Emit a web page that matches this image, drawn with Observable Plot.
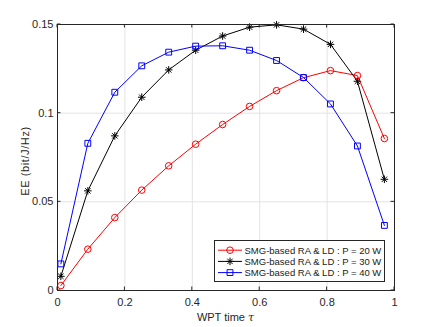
<!DOCTYPE html>
<html>
<head>
<meta charset="utf-8">
<script src="https://cdn.jsdelivr.net/npm/d3@7"></script>
<script src="https://cdn.jsdelivr.net/npm/@observablehq/plot@0.6"></script>
<style>
  html, body { margin: 0; padding: 0; background: #fff; }
  #chart { width: 436px; height: 327px; }
</style>
</head>
<body>
<div id="chart"></div>
<script>
// ---- data ----
const tau = [0.01, 0.09, 0.17, 0.25, 0.33, 0.41, 0.49, 0.57, 0.65, 0.73, 0.81, 0.89, 0.97];
const ee20 = [0.0028, 0.0233, 0.0411, 0.0566, 0.0703, 0.0825, 0.0936, 0.1038, 0.1127, 0.1200, 0.1240, 0.1212, 0.0857];
const ee30 = [0.0080, 0.0562, 0.0872, 0.1090, 0.1244, 0.1355, 0.1435, 0.1485, 0.1498, 0.1474, 0.1388, 0.1180, 0.0627];
const ee40 = [0.0150, 0.0830, 0.1118, 0.1267, 0.1344, 0.1378, 0.1380, 0.1355, 0.1297, 0.1201, 0.1052, 0.0815, 0.0367];
const seriesNames = ["SMG-based RA & LD : P = 20 W", "SMG-based RA & LD : P = 30 W", "SMG-based RA & LD : P = 40 W"];
const seriesColors = ["#ff0000", "#000000", "#0000ff"];
const xTicks = [0, 0.2, 0.4, 0.6, 0.8, 1];
const xTickLabels = ["0", "0.2", "0.4", "0.6", "0.8", "1"];
const yTicks = [0, 0.05, 0.1, 0.15];
const yTickLabels = ["0", "0.05", "0.1", "0.15"];
const xLabel = "WPT time ";
const xLabelSym = "τ";
const yLabel = "EE (bit/J/Hz)";

// MATLAB-like '*' marker (plus + times)
const asterisk = {
  draw(context, size) {
    const r = Math.sqrt(size / Math.PI) * 1.15;
    const d = r * 0.7071;
    context.moveTo(-r, 0); context.lineTo(r, 0);
    context.moveTo(0, -r); context.lineTo(0, r);
    context.moveTo(-d, -d); context.lineTo(d, d);
    context.moveTo(-d, d); context.lineTo(d, -d);
  }
};
const seriesSymbols = [d3.symbolCircle, asterisk, d3.symbolSquare];
const seriesValues = [ee20, ee30, ee40];

const rows = seriesNames.flatMap((s, k) => tau.map((t, i) => ({tau: t, ee: seriesValues[k][i], s})));

const plot = Plot.plot({
  width: 436,
  height: 327,
  marginLeft: 57,
  marginRight: 42,
  marginTop: 24,
  marginBottom: 37,
  style: {fontFamily: "'Liberation Sans', Arial, sans-serif", fontSize: "11px", color: "#262626", background: "#fff", overflow: "visible"},
  x: {domain: [0, 1]},
  y: {domain: [0, 0.15]},
  color: {domain: seriesNames, range: seriesColors},
  symbol: {domain: seriesNames, range: seriesSymbols},
  marks: [
    Plot.gridX(xTicks, {stroke: "#e3e3e3", strokeOpacity: 1}),
    Plot.gridY(yTicks, {stroke: "#e3e3e3", strokeOpacity: 1}),
    Plot.axisX(xTicks, {tickSize: 0, tickPadding: 8, tickFormat: d => xTickLabels[xTicks.indexOf(d)], label: null}),
    Plot.axisY(yTicks, {tickSize: 0, tickPadding: 4, tickFormat: d => yTickLabels[yTicks.indexOf(d)], label: null}),
    Plot.line(rows, {x: "tau", y: "ee", z: "s", stroke: "s", strokeWidth: 1}),
    Plot.dot(rows, {x: "tau", y: "ee", stroke: "s", symbol: "s", r: 3.3, fill: "none", strokeWidth: 1}),
    Plot.frame({stroke: "#262626", strokeWidth: 1})
  ]
});
document.getElementById("chart").appendChild(plot);

// ---- overlays: inward ticks, axis labels, legend ----
const svg = d3.select(plot);
const sx = plot.scale("x"), sy = plot.scale("y");
const x0 = sx.apply(0), x1 = sx.apply(1), y0 = sy.apply(0), y1 = sy.apply(0.15);
const tl = 3.5;
const tg = svg.append("g").attr("stroke", "#262626").attr("stroke-width", 1);
xTicks.forEach(v => {
  const px = sx.apply(v);
  tg.append("line").attr("x1", px).attr("x2", px).attr("y1", y0).attr("y2", y0 - tl);
  tg.append("line").attr("x1", px).attr("x2", px).attr("y1", y1).attr("y2", y1 + tl);
});
yTicks.forEach(v => {
  const py = sy.apply(v);
  tg.append("line").attr("y1", py).attr("y2", py).attr("x1", x0).attr("x2", x0 + tl);
  tg.append("line").attr("y1", py).attr("y2", py).attr("x1", x1).attr("x2", x1 - tl);
});

const xl = svg.append("text")
  .attr("x", (x0 + x1) / 2).attr("y", 321)
  .attr("text-anchor", "middle").attr("fill", "#262626").attr("font-size", "11px");
xl.append("tspan").text(xLabel);
xl.append("tspan").attr("font-style", "italic").attr("font-family", "'DejaVu Serif', serif").text(xLabelSym);

svg.append("text")
  .attr("transform", `translate(28.5,${(y0 + y1) / 2 + 4}) rotate(-90)`)
  .attr("text-anchor", "middle").attr("fill", "#262626").attr("font-size", "11px")
  .attr("letter-spacing", "0.6px")
  .text(yLabel);

const lg = svg.append("g").attr("text-anchor", "start");
lg.append("rect").attr("x", 214.5).attr("y", 240.5).attr("width", 170).attr("height", 41)
  .attr("fill", "#fff").attr("stroke", "#262626").attr("stroke-width", 1);
const entryY = [250.2, 261.4, 272.6];
seriesNames.forEach((name, k) => {
  const yy = entryY[k];
  lg.append("line").attr("x1", 218).attr("x2", 242).attr("y1", yy).attr("y2", yy)
    .attr("stroke", seriesColors[k]).attr("stroke-width", 1);
  const p = d3.path();
  seriesSymbols[k].draw(p, Math.PI * 3.3 * 3.3);
  lg.append("path").attr("d", p.toString()).attr("transform", `translate(230,${yy})`)
    .attr("fill", "none").attr("stroke", seriesColors[k]).attr("stroke-width", 1);
  lg.append("text").attr("x", 244.5).attr("y", yy).attr("dy", "0.35em")
    .attr("text-anchor", "start")
    .attr("font-size", "9.5px").attr("fill", "#1a1a1a").text(name);
});
</script>
</body>
</html>
